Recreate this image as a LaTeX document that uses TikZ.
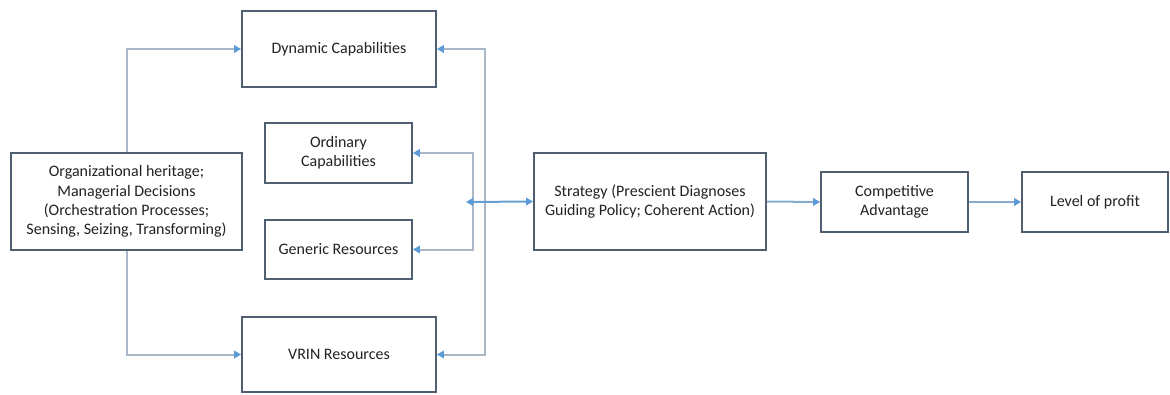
\documentclass[tikz,border=0pt]{standalone}
\usepackage{fontspec}
\setmainfont{Carlito}
\usetikzlibrary{arrows.meta}
\definecolor{boxline}{HTML}{4F5F70}
\definecolor{linkgray}{HTML}{A9B7C6}
\definecolor{tipblue}{HTML}{5B9BD5}
\definecolor{textgray}{HTML}{222222}
\begin{document}
\begin{tikzpicture}[x=1pt,y=-1pt,
  box/.style={draw=boxline,line width=1.8pt,fill=white,align=center,
    text=textgray,font=\fontsize{16}{19.2}\selectfont,inner sep=0pt},
  conn/.style={draw=linkgray,line width=2pt,
    -{Triangle[length=7pt,width=7.5pt,color=tipblue]}},
  bconn/.style={draw=tipblue!85!linkgray,line width=2pt,
    {Triangle[length=7pt,width=7.5pt,color=tipblue]}-{Triangle[length=7pt,width=7.5pt,color=tipblue]}},
  fconn/.style={draw=linkgray!60!tipblue,line width=2pt,
    -{Triangle[length=7pt,width=7.5pt,color=tipblue]}}]
\useasboundingbox (0,0) rectangle (1170,394);

% boxes (centre, width, height)
\node[box,minimum width=231pt,minimum height=97pt] (org) at (126.5,201.5)
  {Organizational heritage;\\Managerial Decisions\\(Orchestration Processes;\\Sensing, Seizing, Transforming)};
\node[box,minimum width=194pt,minimum height=76pt] (dc) at (339,49) {Dynamic Capabilities};
\node[box,minimum width=147pt,minimum height=60pt] (oc) at (338.5,153) {Ordinary\\Capabilities};
\node[box,minimum width=147pt,minimum height=59pt] (gr) at (338.5,249.5) {Generic Resources};
\node[box,minimum width=194pt,minimum height=75pt] (vrin) at (339,354.5) {VRIN Resources};
\node[box,minimum width=232pt,minimum height=97pt] (st) at (650,201.5)
  {Strategy (Prescient Diagnoses\\Guiding Policy; Coherent Action)};
\node[box,minimum width=147pt,minimum height=60pt] (ca) at (894.5,202) {Competitive\\Advantage};
\node[box,minimum width=146pt,minimum height=60pt] (lp) at (1095,202) {Level of profit};

% branching points
\coordinate (outer) at (485,202);
\coordinate (inner) at (473,202);
\coordinate (tip) at (466,202);

% left fan-out
\draw[conn] (org.north) |- (dc.west);
\draw[conn] (org.south) |- (vrin.west);

% right-hand feedback lines
\draw[conn] (outer) |- (dc.east);
\draw[conn] (outer) |- (vrin.east);
\draw[conn] (inner) |- (oc.east);
\draw[conn] (inner) |- (gr.east);

% strategy link and main chain
\draw[bconn] (tip) -- (st.west);
\draw[fconn] (st.east) -- (ca.west);
\draw[fconn] (ca.east) -- (lp.west);
\end{tikzpicture}
\end{document}
